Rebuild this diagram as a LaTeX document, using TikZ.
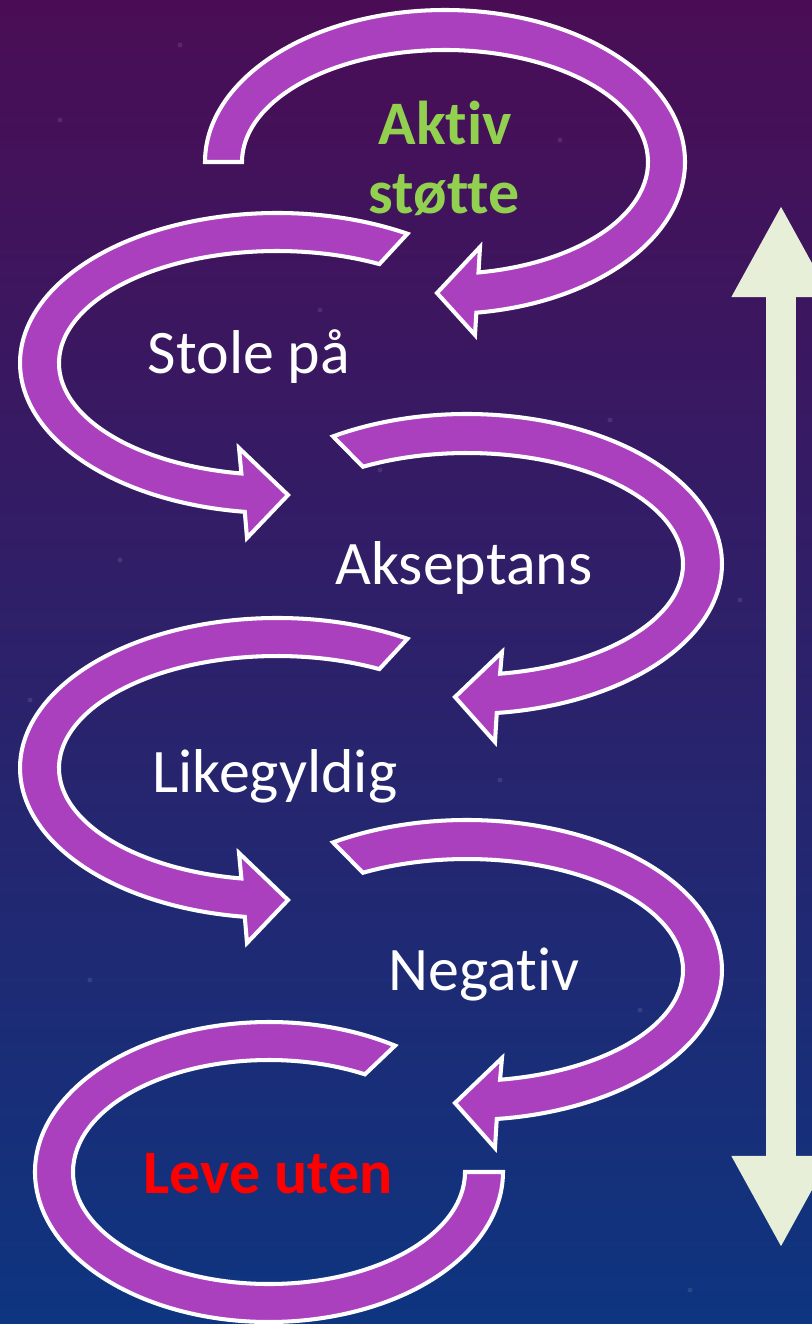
\documentclass[tikz,border=0pt]{standalone}
\usepackage{fontspec}
\setmainfont{Carlito}[Ligatures=NoCommon]
\usetikzlibrary{arrows.meta,calc}

\definecolor{ringfill}{HTML}{AB40BF}
\definecolor{topgreen}{HTML}{92D050}
\definecolor{barfill}{HTML}{E7EFD9}
\definecolor{skytop}{HTML}{4A0D55}
\definecolor{skymid}{HTML}{302473}
\definecolor{skybot}{HTML}{0E3580}

\tikzset{
    ring/.style={fill=ringfill, draw=white, line width=1.15pt, line join=miter},
    lbl/.style={text=white, inner sep=0pt, anchor=base, font=\fontsize{17.6}{19.6}\selectfont},
    lblbold/.style={lbl, font=\bfseries\fontsize{17.6}{19.6}\selectfont},
    star/.style={fill=white, opacity=0.1},
    bar/.style={draw=barfill, line width=8.8pt,
        {Triangle[length=26.2pt, width=26.2pt, fill=barfill]}-{Triangle[length=26.2pt, width=26.2pt, fill=barfill]}},
}

\begin{document}
\begin{tikzpicture}[x=0.01cm, y=0.01cm]
    \useasboundingbox (0,0) rectangle (812,-1324);
    \shade[top color=skytop, middle color=skymid, bottom color=skybot] (0,0) rectangle (812,-1324);
    \clip (0,0) rectangle (812,-1324);

    \foreach \sx/\sy in {180/-45, 60/-120, 320/-310, 120/-560, 610/-420, 500/-780,
                         90/-980, 640/-1010, 430/-1240, 740/-600, 30/-700, 560/-140,
                         690/-1290, 210/-1040, 380/-470, 150/-880}
        \fill[star] (\sx,\sy) circle (2.5);

    \coordinate (c1) at (445,-162);
    \coordinate (c2) at (277,-363);
    \coordinate (c3) at (467,-564);
    \coordinate (c4) at (277,-768);
    \coordinate (c5) at (467,-970);
    \coordinate (c6) at (269,-1172);

    \draw[ring] ($(c1)+(180:240 and 152)$) arc[start angle=180, end angle=-82.5, x radius=240, y radius=152]
        -- (475,-335) -- (437,-293) -- (480,-247)
        -- ($(c1)+(-80.5:203 and 112)$) arc[start angle=-80.5, end angle=180, x radius=203, y radius=112] -- cycle;

    \draw[ring] ($(c2)+(59.5:257 and 150)$) arc[start angle=59.5, end angle=262.8, x radius=257, y radius=150]
        -- (247,-538) -- (288,-495) -- (239,-448)
        -- ($(c2)+(260.6:218 and 112)$) arc[start angle=260.6, end angle=62, x radius=218, y radius=112] -- cycle;

    \draw[ring] ($(c3)+(121.7:255 and 150)$) arc[start angle=121.7, end angle=-83.3, x radius=255, y radius=150]
        -- (495,-742) -- (455,-697) -- (502,-652)
        -- ($(c3)+(-81.2:216 and 111)$) arc[start angle=-81.2, end angle=118.8, x radius=216, y radius=111] -- cycle;

    \draw[ring] ($(c4)+(59.5:257 and 150)$) arc[start angle=59.5, end angle=262.8, x radius=257, y radius=150]
        -- (247,-943) -- (288,-900) -- (239,-853)
        -- ($(c4)+(260.6:218 and 112)$) arc[start angle=260.6, end angle=62, x radius=218, y radius=112] -- cycle;

    \draw[ring] ($(c5)+(121.7:255 and 150)$) arc[start angle=121.7, end angle=-83.3, x radius=255, y radius=150]
        -- (495,-1148) -- (455,-1103) -- (502,-1058)
        -- ($(c5)+(-81.2:216 and 111)$) arc[start angle=-81.2, end angle=118.8, x radius=216, y radius=111] -- cycle;

    \draw[ring] ($(c6)+(57.4:234 and 150)$) arc[start angle=57.4, end angle=360, x radius=234, y radius=150]
        -- ($(c6)+(0:196 and 112)$) arc[start angle=360, end angle=60.7, x radius=196, y radius=112] -- cycle;

    \node[lblbold, text=topgreen] (aktiv) at (445,-144) {Aktiv};
    \node[lblbold, text=topgreen] (stotte) at (444,-213) {støtte};
    \node[lbl] (stole) at (249,-373) {Stole på};
    \node[lbl] (aksept) at (464,-584) {Akseptans};
    \node[lbl] (likegyldig) at (275,-792) {Likegyldig};
    \node[lbl] (negativ) at (484,-990) {Negativ};
    \node[lblbold, text=red] (leve) at (268,-1193) {Leve uten};

    \coordinate (bartop) at (781,-205);
    \coordinate (barbot) at (781,-1248);
    \draw[bar] (bartop) -- (barbot);
\end{tikzpicture}
\end{document}
